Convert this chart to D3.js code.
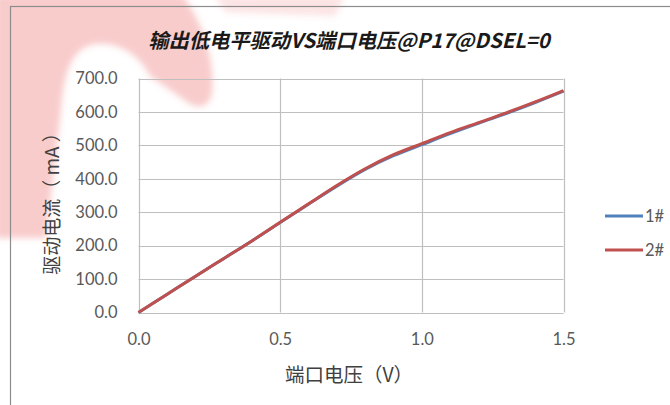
<!DOCTYPE html>
<html><head><meta charset="utf-8">
<script src="https://cdn.jsdelivr.net/npm/d3@7"></script>
<style>
html,body{margin:0;padding:0;background:#fff;}
svg{display:block;}
</style></head>
<body>
<div id="chart"></div>
<script>
const voltage = [0.0,0.1,0.2,0.3,0.4,0.5,0.6,0.7,0.8,0.9,1.0,1.1,1.2,1.3,1.4,1.5];
const current1 = [0,54,108,161,214,269,324,378,428,469,502,535,566,596,628,662];
const current2 = [0,54,108,161,214,270,325,380,430,472,505,538,568,598,630,664];
const seriesNames = ["1#","2#"];
const seriesColors = ["#4F81BD","#C0504D"];
const yTicks = [0,100,200,300,400,500,600,700];
const xTicks = [0,0.5,1.0,1.5];
const title = "输出低电平驱动VS端口电压@P17@DSEL=0";
const xTitle = "端口电压（V）";
const yTitle = "驱动电流（ mA ）";

const W = 670, H = 405;
const svg = d3.select("#chart").append("svg").attr("width", W).attr("height", H);
const font = "Lato, 'Noto Sans CJK SC', sans-serif";
const cjk = "'Noto Sans CJK SC', Lato, sans-serif";

// watermark
const defs = svg.append("defs");
defs.append("filter").attr("id","blur").append("feGaussianBlur").attr("stdDeviation",3);
const wm = svg.append("g").attr("filter","url(#blur)");
wm.append("path")
  .attr("d","M -5 -5 L 182 -5 C 202 20 216 60 212 95 Q 206 112 190 104 L 150 76 C 140 56 120 42 96 44 C 72 47 64 72 61 110 L 46 238 L -5 238 Z")
  .attr("fill","#ea5557").attr("fill-opacity",0.3);
wm.append("path").attr("d","M 214 -5 L 345 -5 L 335 16 L 226 12 Z")
  .attr("fill","#ea5557").attr("fill-opacity",0.16);

// chart frame
svg.append("rect").attr("x",10.5).attr("y",6.5).attr("width",700).attr("height",420)
  .attr("fill","none").attr("stroke","#8c8c8c").attr("stroke-width",1.2);

const m = {left:138.5, right:563.5, top:78.5, bottom:312.5};
const x = d3.scaleLinear().domain([0,1.5]).range([m.left, m.right]);
const y = d3.scaleLinear().domain([0,700]).range([m.bottom, m.top]);

// grid
const g = svg.append("g");
g.append("g").selectAll("line").data(yTicks).join("line")
  .attr("x1",m.left).attr("x2",m.right).attr("y1",d=>Math.round(y(d))+0.5).attr("y2",d=>Math.round(y(d))+0.5)
  .attr("stroke","#bfbfbf").attr("stroke-width",1.2);
g.append("g").selectAll("line").data(xTicks).join("line")
  .attr("y1",m.top).attr("y2",m.bottom).attr("x1",d=>Math.round(x(d))+0.5).attr("x2",d=>Math.round(x(d))+0.5)
  .attr("stroke","#bfbfbf").attr("stroke-width",1.2);

// axes via d3
const yAxis = d3.axisLeft(y).tickValues(yTicks).tickFormat(d3.format(".1f")).tickSize(0).tickPadding(21);
const ya = svg.append("g").attr("transform",`translate(${m.left},0)`).call(yAxis);
ya.select(".domain").remove();
ya.selectAll("text").attr("font-family",font).attr("font-size",16.5).attr("fill","#595959");

const xAxis = d3.axisBottom(x).tickValues(xTicks).tickFormat(d3.format(".1f")).tickSize(0).tickPadding(21);
const xa = svg.append("g").attr("transform",`translate(0,${m.bottom})`).call(xAxis);
xa.select(".domain").remove();
xa.selectAll("text").attr("font-family",font).attr("font-size",16.5).attr("fill","#595959");

// lines
const line = d3.line().x((d,i)=>x(voltage[i])).y(d=>y(d)).curve(d3.curveMonotoneX);
[current1,current2].forEach((s,i)=>{
  svg.append("path").datum(s).attr("d",line).attr("fill","none")
    .attr("stroke",seriesColors[i]).attr("stroke-width",3).attr("stroke-linejoin","round");
});

// legend
const lg = svg.append("g");
seriesNames.forEach((n,i)=>{
  const ly = 216 + i*34;
  lg.append("line").attr("x1",605).attr("x2",643).attr("y1",ly).attr("y2",ly)
    .attr("stroke",seriesColors[i]).attr("stroke-width",3);
  lg.append("text").attr("x",645).attr("y",ly).attr("dy","0.35em").text(n)
    .attr("font-family",font).attr("font-size",16.5).attr("fill","#595959");
});

// titles
svg.append("text").attr("x",349).attr("y",41).attr("dy","0.35em").attr("text-anchor","middle")
  .attr("font-family",cjk).attr("font-size",20.3).attr("font-weight","bold").attr("font-style","italic")
  .attr("fill","#1a1a1a").text(title);
svg.append("text").attr("x",349).attr("y",375).attr("dy","0.35em").attr("text-anchor","middle")
  .attr("font-family",cjk).attr("font-size",19.5).attr("fill","#404040").text(xTitle);
svg.append("text").attr("transform","translate(52,199) rotate(-90)").attr("dy","0.35em").attr("text-anchor","middle")
  .attr("font-family",cjk).attr("font-size",19).attr("fill","#404040").text(yTitle);
</script>
</body></html>
